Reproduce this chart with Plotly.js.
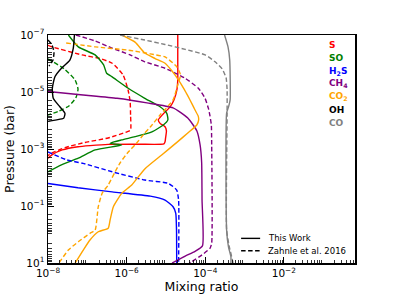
<!DOCTYPE html>
<html>
<head>
<meta charset="utf-8">
<script src="https://cdn.plot.ly/plotly-3.0.1.min.js"></script>
<style>html,body{margin:0;padding:0;background:#fff;}#chart{width:394px;height:296px;}</style>
</head>
<body>
<div id="chart"></div>
<script>
// ---- Data: mixing ratio (x) vs pressure in bar (p) ----
// S
const S_work_x = [2.0e-5, 2.0e-5, 2.0e-5, 1.9e-5, 1.6e-5, 1.26e-5, 8.5e-6, 6.4e-6, 7.1e-6, 9.5e-6, 1.03e-5, 9.8e-6, 9.5e-6, 8.9e-6, 2.2e-6, 3.4e-7, 1.17e-7, 5.8e-8, 2.3e-8, 1.26e-8, 1.0e-8];
const S_work_p = [1e-7, 7.6e-7, 3.8e-6, 8.5e-6, 1.9e-5, 3.4e-5, 5.9e-5, 9.5e-5, 1.26e-4, 1.66e-4, 2.3e-4, 4.1e-4, 5.6e-4, 6.6e-4, 6.8e-4, 6.9e-4, 7.6e-4, 8.3e-4, 1.08e-3, 1.6e-3, 2.1e-3];
const S_zahnle_x = [1.0e-8, 1.26e-8, 7.3e-8, 2.1e-7, 4.3e-7, 8.1e-7, 1.09e-6, 1.23e-6, 1.26e-6, 1.26e-6, 1.02e-6, 3.4e-7, 8.7e-8, 2.7e-8, 1.26e-8, 1.0e-8];
const S_zahnle_p = [2.3e-7, 2.6e-7, 5.0e-7, 6.7e-7, 9.8e-7, 2.5e-6, 8.5e-6, 2.2e-5, 6.4e-5, 2.15e-4, 2.5e-4, 4.1e-4, 5.9e-4, 8.9e-4, 1.38e-3, 1.7e-3];
// SO
const SO_work_x = [3.3e-8, 5.9e-8, 1.58e-7, 2.6e-7, 3.1e-7, 4.2e-7, 1.1e-6, 2.9e-6, 7.1e-6, 1.05e-5, 1.12e-5, 8.6e-6, 4.4e-6, 1.64e-6, 7.5e-7, 3.8e-7, 7.5e-7, 1.58e-7, 5.9e-8, 2.2e-8, 1.0e-8];
const SO_work_p = [1e-7, 2.6e-7, 5.0e-7, 1.12e-6, 2.2e-6, 2.9e-6, 7.4e-6, 1.66e-5, 3.3e-5, 5.6e-5, 9.5e-5, 1.44e-4, 2.5e-4, 3.7e-4, 4.8e-4, 6.3e-4, 7.2e-4, 1.08e-3, 2.1e-3, 3.6e-3, 6.3e-3];
const SO_zahnle_x = [1.0e-8, 2.6e-8, 4.9e-8, 5.8e-8, 5.1e-8, 3.4e-8, 1.9e-8, 1.0e-8];
const SO_zahnle_p = [6.9e-7, 1.55e-6, 3.8e-6, 7.9e-6, 1.62e-5, 3.1e-5, 4.7e-5, 6.4e-5];
// H2S
const H2S_work_x = [1.0e-8, 5.8e-8, 4.3e-7, 4.0e-6, 9.5e-6, 1.52e-5, 1.78e-5, 1.86e-5, 1.88e-5];
const H2S_work_p = [1.62e-2, 2.3e-2, 3.2e-2, 4.5e-2, 6.2e-2, 0.106, 0.18, 0.70, 10];
const H2S_zahnle_x = [1.0e-8, 3.0e-8, 7.8e-8, 4.3e-7, 2.9e-6, 1.15e-5, 1.88e-5, 2.1e-5, 2.1e-5];
const H2S_zahnle_p = [1.27e-3, 2.4e-3, 3.2e-3, 6.3e-3, 1.23e-2, 1.6e-2, 2.75e-2, 6.2e-2, 10];
// CH4
const CH4_work_x = [1.0e-8, 7.8e-8, 5.7e-7, 3.3e-6, 1.52e-5, 3.6e-5, 6.1e-5, 7.4e-5, 8.1e-5, 8.3e-5, 8.5e-5, 5.5e-5, 3.1e-5, 1.43e-5];
const CH4_work_p = [9.6e-6, 1.27e-5, 1.66e-5, 2.4e-5, 3.6e-5, 8.2e-5, 2.3e-4, 7.2e-4, 2.9e-3, 6.2e-2, 2.5, 3.9, 5.7, 10];
const CH4_zahnle_x = [5.1e-8, 1.58e-7, 4.3e-7, 1.23e-6, 2.9e-6, 9.5e-6, 3.1e-5, 6.7e-5, 9.9e-5, 1.2e-4, 1.32e-4, 1.43e-4, 1.46e-4, 1.46e-4, 1.32e-4, 8.3e-5, 4.6e-5, 3.9e-5];
const CH4_zahnle_p = [1e-7, 1.62e-7, 2.9e-7, 5.0e-7, 8.7e-7, 1.47e-6, 3.3e-6, 7.4e-6, 1.66e-5, 3.7e-5, 6.9e-5, 1.44e-4, 7.2e-4, 2.0, 3.05, 5.2, 8.9, 10];
// CO2
const CO2_work_x = [7.6e-7, 1.64e-6, 2.9e-6, 5.3e-6, 9.5e-6, 1.43e-5, 2.1e-5, 2.9e-5, 3.7e-5, 4.6e-5, 5.5e-5, 6.6e-5, 6.8e-5, 6.1e-5, 3.6e-5, 2.0e-5, 7.8e-6, 2.9e-6, 1.35e-6, 7.5e-7, 4.6e-7, 3.8e-7, 3.4e-7, 1.9e-7, 1.17e-7, 7.9e-8, 4.9e-8];
const CO2_work_p = [1e-7, 1.78e-7, 4.3e-7, 6.7e-7, 9.8e-7, 1.83e-6, 3.8e-6, 7.9e-6, 1.46e-5, 2.6e-5, 4.3e-5, 6.9e-5, 9.5e-5, 1.44e-4, 2.75e-4, 5.5e-4, 1.62e-3, 5.0e-3, 1.83e-2, 3.6e-2, 0.106, 0.31, 0.6, 0.8, 1.56, 3.5, 10];
const CO2_zahnle_x = [2.9e-8, 1.58e-7, 1.1e-6, 4.0e-6, 9.5e-6, 1.88e-5, 2.35e-5, 2.0e-5, 1.52e-5, 7.1e-6, 4.0e-6, 2.9e-6, 1.64e-6, 1.1e-6, 6.8e-7, 5.1e-7, 3.4e-7, 2.4e-7, 1.9e-7, 1.58e-7, 1.17e-7, 5.9e-8, 3.3e-8, 2.0e-8, 1.9e-8];
const CO2_zahnle_p = [1.9e-7, 2.6e-7, 3.4e-7, 4.6e-7, 5.9e-7, 1.29e-6, 2.5e-6, 5.6e-6, 1.9e-5, 6.4e-5, 1.7e-4, 2.75e-4, 7.2e-4, 1.27e-3, 3.1e-3, 6.3e-3, 1.83e-2, 3.5e-2, 0.106, 0.70, 0.91, 1.8, 3.5, 9.0, 10];
// OH
const OH_work_x = [4.7e-8, 4.4e-8, 3.6e-8, 2.2e-8, 1.5e-8, 1.29e-8, 1.36e-8, 2.0e-8, 2.7e-8, 2.5e-8, 1.66e-8, 1.12e-8, 1.0e-8];
const OH_work_p = [1e-7, 2.9e-7, 7.6e-7, 1.47e-6, 2.9e-6, 7.4e-6, 1.66e-5, 3.3e-5, 5.6e-5, 8.4e-5, 9.5e-5, 1.04e-4, 1.07e-4];
const OH_zahnle_x = [1.0e-8, 1.26e-8, 1.42e-8, 1.34e-8, 1.06e-8];
const OH_zahnle_p = [1.5e-7, 2.2e-7, 4.0e-7, 7.6e-7, 1.23e-6];
// CO
const CO_work_x = [3.1e-4, 3.8e-4, 4.2e-4, 4.3e-4, 3.9e-4, 3.5e-4, 3.5e-4, 3.9e-4, 4.5e-4, 4.5e-4];
const CO_work_p = [1e-7, 2.6e-7, 7.6e-7, 1.9e-5, 3.4e-5, 5.5e-5, 0.70, 2.7, 6.0, 10];
const CO_zahnle_x = [6.8e-7, 2.9e-6, 9.5e-6, 3.1e-5, 1.0e-4, 1.78e-4, 2.7e-4, 3.4e-4, 3.6e-4, 3.6e-4, 3.5e-4, 4.1e-4, 4.7e-4, 5.1e-4];
const CO_zahnle_p = [1e-7, 1.5e-7, 2.15e-7, 3.2e-7, 5.0e-7, 8.7e-7, 1.55e-6, 3.2e-6, 8.5e-6, 5.5e-5, 0.70, 2.7, 6.0, 10];

const species = ['S', 'SO', 'H2S', 'CH4', 'CO2', 'OH', 'CO'];
const speciesLabels = ['S', 'SO', 'H<sub>2</sub>S', 'CH<sub>4</sub>', 'CO<sub>2</sub>', 'OH', 'CO'];
const speciesColors = ['#ff0000', '#008000', '#0000ff', '#800080', '#ffa500', '#000000', '#808080'];
const styleLabels = ['This Work', 'Zahnle et al. 2016'];

const xLabelExp = [-8, -6, -4, -2];
const xMajorExp = [-8, -7, -6, -5, -4, -3, -2, -1];
const yLabelExp = [-7, -5, -3, -1, 1];
const yMajorExp = [-7, -6, -5, -4, -3, -2, -1, 0, 1];

// ---- Build ----
const dataSets = {
  S: [[S_work_x, S_work_p], [S_zahnle_x, S_zahnle_p]],
  SO: [[SO_work_x, SO_work_p], [SO_zahnle_x, SO_zahnle_p]],
  H2S: [[H2S_work_x, H2S_work_p], [H2S_zahnle_x, H2S_zahnle_p]],
  CH4: [[CH4_work_x, CH4_work_p], [CH4_zahnle_x, CH4_zahnle_p]],
  CO2: [[CO2_work_x, CO2_work_p], [CO2_zahnle_x, CO2_zahnle_p]],
  OH: [[OH_work_x, OH_work_p], [OH_zahnle_x, OH_zahnle_p]],
  CO: [[CO_work_x, CO_work_p], [CO_zahnle_x, CO_zahnle_p]]
};
const LW = 1.4;
const DASH = '4.5px,2.5px';
const traces = [];
species.forEach((sp, i) => {
  [1, 0].forEach(k => {
    const d = dataSets[sp][k];
    traces.push({
      x: d[0], y: d[1], type: 'scatter', mode: 'lines',
      line: {color: speciesColors[i], width: LW, dash: k === 0 ? 'solid' : DASH, shape: 'spline', smoothing: 0.5},
      showlegend: false, hoverinfo: 'skip'
    });
  });
});

function pow10(e) { return Math.pow(10, e); }
function supLabel(e) { return '10<sup>' + (e < 0 ? '\u2212' + (-e) : e) + '</sup>'; }
function minorVals(exps) {
  const out = [];
  for (let e = exps[0] - 1; e <= exps[exps.length - 1] + 1; e++) {
    for (let m = 2; m <= 9; m++) out.push(m * pow10(e));
  }
  return out;
}

const FONT = 'DejaVu Sans, Arial, sans-serif';
const baseAxis = {
  type: 'log', showgrid: false, zeroline: false, showline: true,
  linecolor: '#000', linewidth: 1.5, ticks: 'inside', ticklen: 6, tickwidth: 1, tickcolor: '#000',
  tickmode: 'array', tickfont: {family: FONT, size: 10.5, color: '#000'}
};
const xRange = [-8, -0.19];
const yRange = [1, -7];

const annotations = speciesLabels.map((t, i) => ({
  text: '<b>' + t + '</b>', xref: 'paper', yref: 'paper', x: 0.91, y: 0.955 - i * 0.0565,
  xanchor: 'left', yanchor: 'middle', showarrow: false,
  font: {family: FONT, size: 9, color: speciesColors[i]}
}));
styleLabels.forEach((t, i) => annotations.push({
  text: t, xref: 'paper', yref: 'paper', x: 0.71, y: 0.108 - i * 0.054,
  xanchor: 'left', yanchor: 'middle', showarrow: false,
  font: {family: FONT, size: 8.5, color: '#000'}
}));
const shapes = [0, 1].map(i => ({
  type: 'line', xref: 'paper', yref: 'paper', x0: 0.629, x1: 0.691,
  y0: 0.108 - i * 0.054, y1: 0.108 - i * 0.054,
  line: {color: '#000', width: LW, dash: i === 0 ? 'solid' : DASH}
}));

const layout = {
  width: 394, height: 296,
  margin: {l: 48, r: 39, t: 35, b: 33},
  paper_bgcolor: '#fff', plot_bgcolor: '#fff',
  showlegend: false,
  font: {family: FONT, color: '#000'},
  xaxis: Object.assign({}, baseAxis, {
    range: xRange, mirror: true,
    tickvals: xLabelExp.map(pow10), ticktext: xLabelExp.map(supLabel),
    minor: {tickmode: 'array', tickvals: minorVals(xMajorExp), ticks: 'inside', ticklen: 3.5, tickwidth: 0.8, tickcolor: '#000', showgrid: false},
    title: {text: 'Mixing ratio', font: {family: FONT, size: 12.5}, standoff: 3}
  }),
  yaxis: Object.assign({}, baseAxis, {
    range: yRange, mirror: true,
    tickvals: yLabelExp.map(pow10), ticktext: yLabelExp.map(supLabel),
    minor: {tickmode: 'array', tickvals: minorVals(yMajorExp), ticks: 'inside', ticklen: 3.5, tickwidth: 0.8, tickcolor: '#000', showgrid: false},
    title: {text: 'Pressure (bar)', font: {family: FONT, size: 12.5}, standoff: 3}
  }),
  // every-decade major ticks, mirrored on the opposite side
  xaxis2: Object.assign({}, baseAxis, {
    overlaying: 'x', side: 'bottom', anchor: 'y', range: xRange, mirror: 'ticks',
    tickvals: xMajorExp.map(pow10), showticklabels: false
  }),
  yaxis2: Object.assign({}, baseAxis, {
    overlaying: 'y', side: 'left', anchor: 'x', range: yRange, mirror: 'ticks',
    tickvals: yMajorExp.map(pow10), showticklabels: false
  }),
  annotations: annotations,
  shapes: shapes
};

Plotly.newPlot('chart', traces, layout, {displayModeBar: false, staticPlot: true});
</script>
</body>
</html>
